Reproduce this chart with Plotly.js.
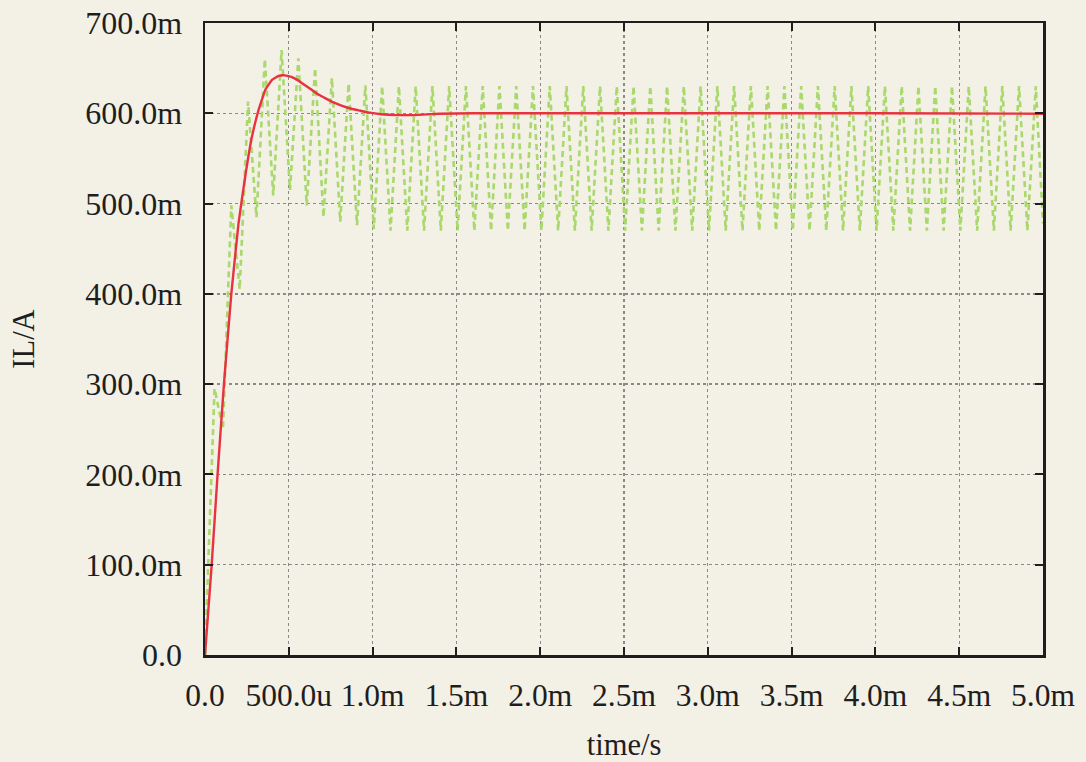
<!DOCTYPE html>
<html>
<head>
<meta charset="utf-8">
<script src="https://cdn.plot.ly/plotly-3.0.1.min.js"></script>
<style>
  html, body { margin: 0; padding: 0; background: #f3f0e6; }
  #chart { width: 1086px; height: 762px; }
</style>
</head>
<body>
<div id="chart"></div>
<script>
// ---- data (time in ms, current in mA) ----
const rippleTime = [
  0, 0.057, 0.107, 0.157, 0.207, 0.257, 0.307, 0.357, 0.407, 0.457, 0.507,
  0.557, 0.607, 0.657, 0.707, 0.757, 0.807, 0.857, 0.907, 0.957, 1.007,
  1.057, 1.107, 1.157, 1.207, 1.257, 1.307, 1.357, 1.407, 1.457, 1.507,
  1.557, 1.607, 1.657, 1.707, 1.757, 1.807, 1.857, 1.907, 1.957, 2.007,
  2.057, 2.107, 2.157, 2.207, 2.257, 2.307, 2.357, 2.407, 2.457, 2.507,
  2.557, 2.607, 2.657, 2.707, 2.757, 2.807, 2.857, 2.907, 2.957, 3.007,
  3.057, 3.107, 3.157, 3.207, 3.257, 3.307, 3.357, 3.407, 3.457, 3.507,
  3.557, 3.607, 3.657, 3.707, 3.757, 3.807, 3.857, 3.907, 3.957, 4.007,
  4.057, 4.107, 4.157, 4.207, 4.257, 4.307, 4.357, 4.407, 4.457, 4.507,
  4.557, 4.607, 4.657, 4.707, 4.757, 4.807, 4.857, 4.907, 4.957, 5.0
];
const rippleCurrent = [
  0, 295, 250, 498, 405, 613, 485, 660, 509, 670, 515,
  661, 498, 650, 485, 639, 480, 633, 476, 631, 472,
  630, 470, 630, 470, 630, 470, 630, 470, 630, 470,
  630, 470, 630, 470, 630, 470, 630, 470, 630, 470,
  630, 470, 630, 470, 630, 470, 630, 470, 630, 470,
  630, 470, 630, 470, 630, 470, 630, 470, 630, 470,
  630, 470, 630, 470, 630, 470, 630, 470, 630, 470,
  630, 470, 630, 470, 630, 470, 630, 470, 630, 470,
  630, 470, 630, 470, 630, 470, 630, 470, 630, 470,
  630, 470, 630, 470, 630, 470, 630, 470, 630, 478
];
const avgTime = [
  0, 0.04, 0.075, 0.113, 0.157, 0.2, 0.24, 0.278, 0.317, 0.36, 0.4, 0.44,
  0.476, 0.51, 0.55, 0.59, 0.63, 0.675, 0.725, 0.774, 0.823, 0.873, 0.922,
  0.972, 1.05, 1.15, 1.25, 1.4, 1.6, 2.0, 3.0, 4.0, 5.0
];
const avgCurrent = [
  0, 100, 200, 300, 400, 478, 530, 572, 602, 626, 637, 641.5,
  642, 640.5, 637, 632, 627, 621, 616, 611.5, 608, 605, 603,
  601, 599, 598, 598, 599.5, 600, 600, 600, 600, 599.5
];
const xTickVals = [0, 0.5, 1.0, 1.5, 2.0, 2.5, 3.0, 3.5, 4.0, 4.5, 5.0];
const xTickText = ['0.0', '500.0u', '1.0m', '1.5m', '2.0m', '2.5m', '3.0m', '3.5m', '4.0m', '4.5m', '5.0m'];
const yTickVals = [0, 100, 200, 300, 400, 500, 600, 700];
const yTickText = ['0.0', '100.0m', '200.0m', '300.0m', '400.0m', '500.0m', '600.0m', '700.0m'];

const bg = '#f3f0e6';
const ink = '#1e1e1e';
const fontFam = 'Liberation Serif, Times New Roman, serif';

const traces = [
  {
    x: rippleTime, y: rippleCurrent, type: 'scatter', mode: 'lines',
    line: { color: '#a9d86c', width: 2.6, dash: '6px,4px' },
    hoverinfo: 'skip'
  },
  {
    x: avgTime, y: avgCurrent, type: 'scatter', mode: 'lines',
    line: { color: '#e8323f', width: 2.4, shape: 'spline', smoothing: 0.3 },
    hoverinfo: 'skip'
  }
];

const axisCommon = {
  showline: true, linecolor: ink, linewidth: 2.5, mirror: 'ticks',
  ticks: 'inside', ticklen: 8, tickwidth: 2, tickcolor: ink,
  showgrid: true, gridcolor: '#8a8a8a', gridwidth: 1.4, griddash: 'dot',
  zeroline: false, tickmode: 'array',
  automargin: false
};

const layout = {
  width: 1086, height: 762,
  margin: { l: 205, r: 43, t: 23, b: 107 },
  paper_bgcolor: bg, plot_bgcolor: bg,
  showlegend: false,
  font: { family: fontFam, size: 30, color: ink },
  xaxis: Object.assign({}, axisCommon, {
    range: [0, 5.0], tickvals: xTickVals, ticktext: xTickText,
    tickfont: { family: fontFam, size: 31.5, color: ink },
    ticklabelstandoff: 11,
    title: { text: 'time/s', font: { family: fontFam, size: 30.5, color: ink }, standoff: 22 }
  }),
  yaxis: Object.assign({}, axisCommon, {
    range: [0, 700], tickvals: yTickVals, ticktext: yTickText,
    tickfont: { family: fontFam, size: 32, color: ink },
    ticklabelstandoff: 14,
    title: { text: 'IL/A', font: { family: fontFam, size: 30.5, color: ink }, standoff: 42 }
  })
};

Plotly.newPlot('chart', traces, layout, { displayModeBar: false, staticPlot: true });
</script>
</body>
</html>
